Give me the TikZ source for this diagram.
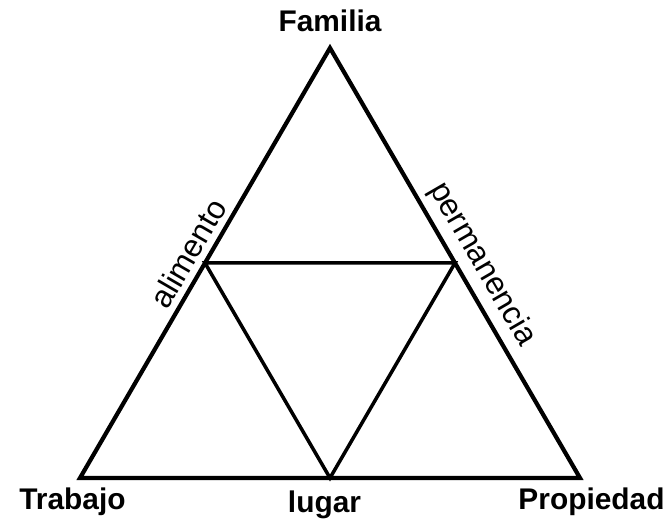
\documentclass[tikz,border=0pt]{standalone}
\usepackage{fontspec}
\setmainfont{Liberation Sans}
\usetikzlibrary{calc}
\begin{document}
\begin{tikzpicture}[every node/.style={font=\fontsize{17}{20}\selectfont},
        esquina/.style={font=\bfseries\fontsize{17}{20}\selectfont, anchor=base},
        lado/.style={sloped, above=0pt, font=\fontsize{18}{21}\selectfont}]
        \useasboundingbox (0,0) rectangle (13.38,10.54);
        \coordinate (f) at (6.6,9.58);
        \coordinate (t) at (1.6,0.98);
        \coordinate (p) at (11.6,0.98);
        \coordinate (ft) at ($(f)!0.5!(t)$);
        \coordinate (fp) at ($(f)!0.5!(p)$);
        \coordinate (tp) at ($(t)!0.5!(p)$);
        \node[esquina] (fam) at (6.6,9.9) {Familia};
        \node[esquina] (tra) at (1.45,0.34) {Trabajo};
        \node[esquina] (pro) at (11.83,0.34) {Propiedad};
        \node[esquina] (lug) at (6.49,0.28) {lugar};
        \draw[line width=2.4pt] (t) -- (f) node[lado,pos=0.5] (ali) {alimento}
            -- (p) node[lado,pos=0.53] (per) {permanencia} -- cycle;
        \draw[line width=2pt] (ft) -- (fp) -- (tp) -- cycle;
    \end{tikzpicture}
\end{document}
